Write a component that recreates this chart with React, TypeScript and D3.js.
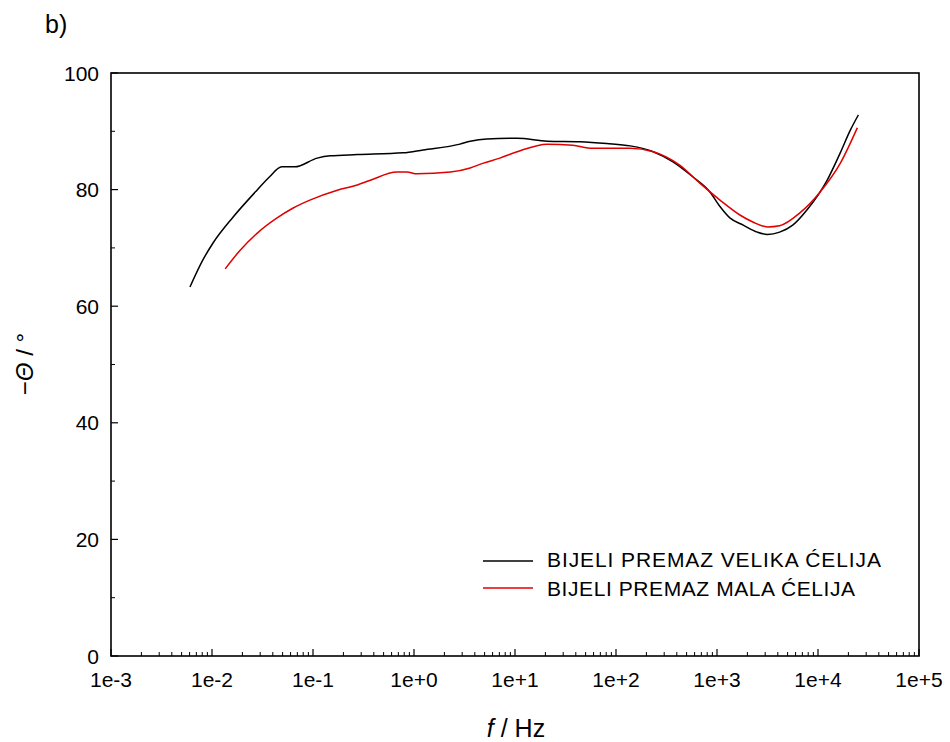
import React from "react";
import * as d3 from "d3";

const blackFreq = [0.00605, 0.0081, 0.0102, 0.0162, 0.0279, 0.0372, 0.049, 0.066, 0.11, 0.148, 0.275, 0.78, 1.23, 2.85, 3.6, 5.25, 10.5, 20.9, 43.7, 81, 138, 234, 363, 575, 851, 1070, 1350, 1820, 2510, 3160, 4170, 5620, 7760, 12300, 16600, 20900, 25100];
const blackVal = [63.3, 67.9, 70.8, 75.3, 79.9, 82.2, 83.9, 83.9, 85.4, 85.8, 86.0, 86.3, 86.8, 87.8, 88.3, 88.7, 88.8, 88.3, 88.2, 87.9, 87.5, 86.5, 84.8, 82.2, 79.6, 77.1, 75.1, 73.9, 72.7, 72.3, 72.7, 73.9, 76.5, 81.6, 86.3, 90.2, 92.8];

const redFreq = [0.0135, 0.019, 0.0279, 0.0437, 0.063, 0.093, 0.174, 0.275, 0.37, 0.676, 0.85, 1.07, 2.29, 3.6, 4.79, 7.08, 10.5, 20.9, 37.2, 58.9, 138, 234, 427, 676, 1070, 1700, 2290, 3160, 4170, 6610, 10500, 16600, 24500];
const redVal = [66.4, 69.6, 72.5, 75.1, 76.8, 78.2, 79.9, 80.8, 81.6, 83.0, 83.0, 82.7, 83.0, 83.7, 84.5, 85.4, 86.5, 87.8, 87.6, 87.1, 87.1, 86.5, 84.2, 81.1, 78.2, 75.6, 74.4, 73.6, 73.8, 76.0, 79.6, 84.5, 90.6];

const xTickValues = [1e-3, 1e-2, 1e-1, 1e0, 1e1, 1e2, 1e3, 1e4, 1e5];
const xTickLabels = ["1e-3", "1e-2", "1e-1", "1e+0", "1e+1", "1e+2", "1e+3", "1e+4", "1e+5"];
const yTickValues = [0, 20, 40, 60, 80, 100];
const yMinorValues = [10, 30, 50, 70, 90];

const seriesNames = ["BIJELI PREMAZ VELIKA ĆELIJA", "BIJELI PREMAZ MALA ĆELIJA"];
const seriesColors = ["#000000", "#e00000"];

export default function App() {
  const W = 950, H = 742;
  const left = 111, right = 919, top = 73, bottom = 656;
  const x = d3.scaleLog().domain([1e-3, 1e5]).range([left, right]);
  const y = d3.scaleLinear().domain([0, 100]).range([bottom, top]);
  const font = "'Liberation Sans', Arial, sans-serif";

  const blackPts: [number, number][] = blackFreq.map((f, i) => [f, blackVal[i]]);
  const redPts: [number, number][] = redFreq.map((f, i) => [f, redVal[i]]);
  const line = d3
    .line<[number, number]>()
    .x((d) => x(d[0]))
    .y((d) => y(d[1]))
    .curve(d3.curveMonotoneX);

  const minor: number[] = [];
  for (let e = -3; e < 5; e++) {
    for (let k = 2; k <= 9; k++) minor.push(k * Math.pow(10, e));
  }

  const legendLens = [334, 308];

  return (
    <svg width={W} height={H} style={{ position: "absolute", left: 0, top: 0, background: "#fff" }}>
      <rect x={0} y={0} width={W} height={H} fill="#fff" />
      <text x={45} y={33} fontFamily={font} fontSize={25} fill="#000">b)</text>

      <rect x={left} y={top} width={right - left} height={bottom - top} fill="none" stroke="#000" strokeWidth={1.6} />

      {xTickValues.map((v, i) => (
        <g key={"xt" + i}>
          <line x1={x(v)} x2={x(v)} y1={bottom} y2={bottom - 7} stroke="#000" strokeWidth={1.2} />
          <text x={x(v)} y={687} textAnchor="middle" fontFamily={font} fontSize={21} fill="#000">{xTickLabels[i]}</text>
        </g>
      ))}
      {minor.map((v, i) => (
        <line key={"xm" + i} x1={x(v)} x2={x(v)} y1={bottom} y2={bottom - 4} stroke="#000" strokeWidth={1} />
      ))}
      {yTickValues.map((v, i) => (
        <g key={"yt" + i}>
          <line x1={left} x2={left + 7} y1={y(v)} y2={y(v)} stroke="#000" strokeWidth={1.2} />
          <text x={99} y={y(v) + 7.5} textAnchor="end" fontFamily={font} fontSize={21} fill="#000">{v}</text>
        </g>
      ))}
      {yMinorValues.map((v, i) => (
        <line key={"ym" + i} x1={left} x2={left + 4} y1={y(v)} y2={y(v)} stroke="#000" strokeWidth={1} />
      ))}

      <path d={line(blackPts) || ""} fill="none" stroke={seriesColors[0]} strokeWidth={1.5} />
      <path d={line(redPts) || ""} fill="none" stroke={seriesColors[1]} strokeWidth={1.5} />

      {seriesNames.map((name, i) => (
        <g key={"lg" + i}>
          <line x1={483} x2={533} y1={561 + i * 27} y2={561 + i * 27} stroke={seriesColors[i]} strokeWidth={1.6} />
          <text x={547} y={567 + i * 29} fontFamily={font} fontSize={21} fill="#000" textLength={legendLens[i]} lengthAdjust="spacing">{name}</text>
        </g>
      ))}

      <text x={516} y={737} textAnchor="middle" fontFamily={font} fontSize={25} fill="#000">
        <tspan fontStyle="italic">f</tspan> / Hz
      </text>
      <text transform="translate(33,364) rotate(-90)" textAnchor="middle" fontFamily={font} fontSize={24} fill="#000">
        −<tspan fontStyle="italic">Θ</tspan> / °
      </text>
    </svg>
  );
}
